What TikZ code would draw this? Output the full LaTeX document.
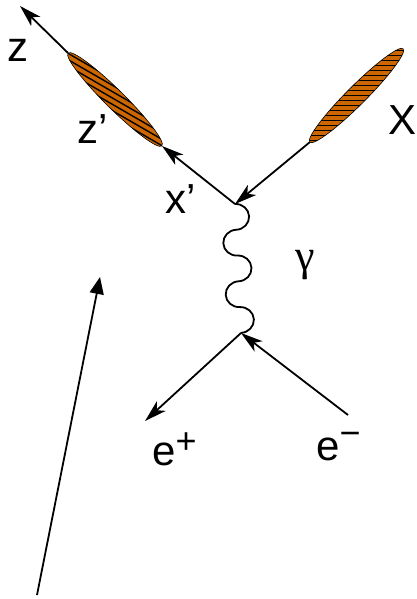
\documentclass[tikz,border=0pt]{standalone}
\usepackage{fontspec}
\setmainfont{Liberation Sans}
\newfontfamily\greekfont{Liberation Serif}
\usetikzlibrary{arrows.meta}
\definecolor{hadron}{RGB}{204,102,0}
\begin{document}
\begin{tikzpicture}[x=1pt,y=-1pt,
  line/.style={line width=1.8pt},
  fermi/.style={line, -{Stealth[length=22pt,width=13pt,inset=6pt]}},
  lbl/.style={inner sep=0pt, anchor=base west, font=\fontsize{42}{42}\selectfont},
  outline/.style={draw=black, line width=0.6pt},
  hatch/.style={line width=1.4pt, black}]
\path[use as bounding box] (0,0) rectangle (417,599);
% vertices and end points
\coordinate (vt) at (235,204);
\coordinate (vb) at (241,333);
\coordinate (ztip) at (20,6);
\coordinate (zl1) at (68,53);
\coordinate (zl2) at (162,146);
\coordinate (xr) at (310,142);
\coordinate (ep) at (145,421);
\coordinate (em) at (348,415);
\coordinate (a0) at (37,595);
\coordinate (a1) at (100,277);
% left hadron blob
\begin{scope}
  \clip[rotate around={-44.7:(115,99.5)}] (115,99.5) ellipse [x radius=66, y radius=9.5];
  \fill[hadron] (30,10) rectangle (200,190);
  \foreach \k in {-16,...,16}
    \draw[hatch, rotate around={-30:(115,99.5)}] (0,99.5+\k*5.5) -- (230,99.5+\k*5.5);
\end{scope}
\draw[outline, rotate around={-44.7:(115,99.5)}] (115,99.5) ellipse [x radius=66, y radius=9.5];
% right hadron blob
\begin{scope}
  \clip[rotate around={45:(356.5,95.5)}] (356.5,95.5) ellipse [x radius=66, y radius=9.5];
  \fill[hadron] (280,20) rectangle (430,170);
  \foreach \k in {-16,...,16}
    \draw[hatch] (280,95.5+\k*5) -- (430,95.5+\k*5);
\end{scope}
\draw[outline, rotate around={45:(356.5,95.5)}] (356.5,95.5) ellipse [x radius=66, y radius=9.5];
% fermion lines
\draw[fermi] (zl1) -- (ztip);
\draw[fermi] (vt) -- (zl2);
\draw[fermi] (xr) -- (vt);
\draw[fermi] (vb) -- (ep);
\draw[fermi] (em) -- (vb);
% photon
\begin{scope}[shift={(vt)}, rotate=2.66]
\draw[line] (0,0) .. controls (7.5,0) and (13.5,5.78) .. (13.5,12.9)
  .. controls (13.5,20.02) and (7.5,25.8) .. (0,25.8)
  .. controls (-7.5,25.8) and (-13.5,31.58) .. (-13.5,38.7)
  .. controls (-13.5,45.82) and (-7.5,51.6) .. (0,51.6)
  .. controls (7.5,51.6) and (13.5,57.38) .. (13.5,64.5)
  .. controls (13.5,71.62) and (7.5,77.4) .. (0,77.4)
  .. controls (-7.5,77.4) and (-13.5,83.18) .. (-13.5,90.3)
  .. controls (-13.5,97.42) and (-7.5,103.2) .. (0,103.2)
  .. controls (7.5,103.2) and (13.5,108.98) .. (13.5,116.1)
  .. controls (13.5,123.22) and (7.5,129) .. (0,129);
\end{scope}
% free arrow
\draw[line, -{Triangle[length=17pt,width=14pt]}] (a0) -- (a1);
% labels
\node[lbl] (lz) at (7,62) {z};
\node[lbl] (lzp) at (77,143) {z’};
\node[lbl] (lxp) at (165,213) {x’};
\node[lbl] (lX) at (388,135) {X};
\node[lbl, font=\greekfont\fontsize{44}{44}\selectfont] (lg) at (295,270) {γ};
\node[lbl] (lep) at (152,465) {e\raisebox{12pt}{\fontsize{36}{36}\selectfont +}};
\node[lbl] (lem) at (316,460) {e\raisebox{15pt}{\fontsize{36}{36}\selectfont −}};
\end{tikzpicture}
\end{document}
